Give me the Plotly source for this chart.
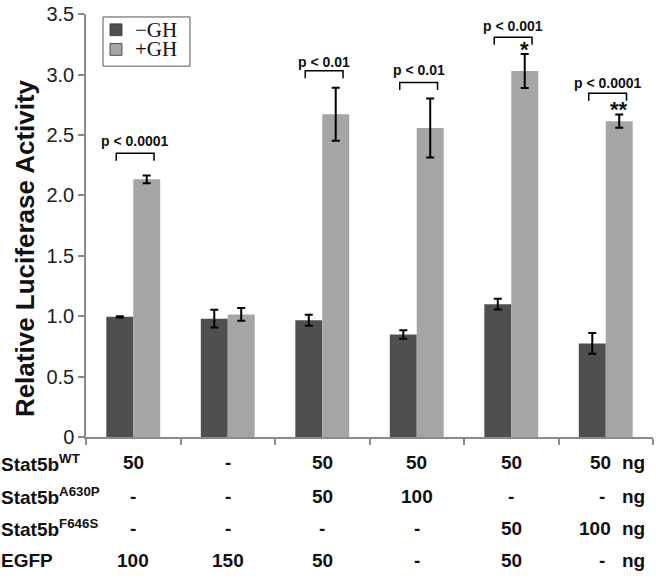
import plotly.graph_objects as go

# ---------------- data ----------------
groups = ["G1", "G2", "G3", "G4", "G5", "G6"]
minus_gh = [0.995, 0.98, 0.967, 0.848, 1.10, 0.775]
minus_gh_err = [0.005, 0.073, 0.045, 0.035, 0.045, 0.085]
plus_gh = [2.133, 1.015, 2.672, 2.558, 3.03, 2.615]
plus_gh_err = [0.032, 0.053, 0.22, 0.245, 0.14, 0.055]

series_names = ["\u2212GH", "+GH"]
p_labels = ["p < 0.0001", None, "p < 0.01", "p < 0.01", "p < 0.001", "p < 0.0001"]
star_labels = [None, None, None, None, "*", "**"]

row_names = ["Stat5b<sup>WT</sup>", "Stat5b<sup>A630P</sup>",
             "Stat5b<sup>F646S</sup>", "EGFP"]
stat5b_wt = ["50", "-", "50", "50", "50", "50"]
stat5b_a630p = ["-", "-", "50", "100", "-", "-"]
stat5b_f646s = ["-", "-", "-", "-", "50", "100"]
egfp = ["100", "150", "50", "-", "50", "-"]
unit = "ng"

y_tickvals = [0, 0.5, 1.0, 1.5, 2.0, 2.5, 3.0, 3.5]
y_ticktext = ["0", "0.5", "1.0", "1.5", "2.0", "2.5", "3.0", "3.5"]

# ---------------- layout helpers (positions) ----------------
bracket_top = [2.35, None, 3.033, 2.935, 3.309, 2.846]
bracket_leg = 0.062
text_y = [2.447, None, 3.106, 3.04, 3.40, 2.927]
star_y = [None, None, None, None, 3.205, 2.712]
row_y = [-0.0605, -0.1395, -0.2163, -0.293]

DARK = "#4f4f4f"
LIGHT = "#a5a5a5"
AXIS = "#8a8a8a"
SANS = "Liberation Sans, Arial, sans-serif"
SERIF = "Liberation Serif, Times New Roman, serif"
ROW_FONT = 19

x = list(range(len(groups)))

fig = go.Figure()
fig.add_trace(go.Bar(
    x=x, y=minus_gh, name=series_names[0], marker=dict(color=DARK, line=dict(width=0)),
    error_y=dict(type="data", array=minus_gh_err, color="black", thickness=2, width=4),
))
fig.add_trace(go.Bar(
    x=x, y=plus_gh, name=series_names[1], marker=dict(color=LIGHT, line=dict(width=0)),
    error_y=dict(type="data", array=plus_gh_err, color="black", thickness=2, width=4),
))

shapes = []
annotations = []
for i in x:
    if p_labels[i]:
        x0, x1 = i - 0.18, i + 0.22
        top = bracket_top[i]
        shapes.append(dict(
            type="path", xref="x", yref="y",
            path=f"M {x0},{top - bracket_leg} L {x0},{top} L {x1},{top} L {x1},{top - bracket_leg}",
            line=dict(color="black", width=1.5),
        ))
        annotations.append(dict(
            x=(x0 + x1) / 2, y=text_y[i], xref="x", yref="y", text=f"<b>{p_labels[i]}</b>",
            showarrow=False, font=dict(family=SANS, size=14, color="#111"),
            xanchor="center", yanchor="middle",
        ))
    if star_labels[i]:
        annotations.append(dict(
            x=i + 0.14, y=star_y[i], xref="x", yref="y", text=f"<b>{star_labels[i]}</b>",
            showarrow=False, font=dict(family=SANS, size=22, color="#111"),
            xanchor="center", yanchor="middle",
        ))

# table below the chart
rows = [stat5b_wt, stat5b_a630p, stat5b_f646s, egfp]
for r, (name, vals) in enumerate(zip(row_names, rows)):
    annotations.append(dict(
        x=-0.1534, y=row_y[r], xref="paper", yref="paper", text=f"<b>{name}</b>",
        showarrow=False, font=dict(family=SANS, size=ROW_FONT, color="#111"),
        xanchor="left", yanchor="middle",
    ))
    last = len(vals) - 1
    for i, v in enumerate(vals):
        if i < last:
            annotations.append(dict(
                x=i, y=row_y[r], xref="x", yref="paper", text=f"<b>{v}</b>",
                showarrow=False, font=dict(family=SANS, size=ROW_FONT, color="#111"),
                xanchor="center", yanchor="middle",
            ))
        else:
            if v == "-":
                annotations.append(dict(
                    x=i - 0.04, y=row_y[r], xref="x", yref="paper", text=f"<b>{v}</b>",
                    showarrow=False, font=dict(family=SANS, size=ROW_FONT, color="#111"),
                    xanchor="center", yanchor="middle",
                ))
            else:
                annotations.append(dict(
                    x=i + 0.074, y=row_y[r], xref="x", yref="paper", text=f"<b>{v}</b>",
                    showarrow=False, font=dict(family=SANS, size=ROW_FONT, color="#111"),
                    xanchor="right", yanchor="middle",
                ))
            annotations.append(dict(
                x=i + 0.15, y=row_y[r], xref="x", yref="paper", text=f"<b>{unit}</b>",
                showarrow=False, font=dict(family=SANS, size=ROW_FONT, color="#111"),
                xanchor="left", yanchor="middle",
            ))

# y-axis title
annotations.append(dict(
    x=-0.1076, y=0.4465, xref="paper", yref="paper",
    text="<b>Relative Luciferase Activity</b>", textangle=-90,
    showarrow=False, font=dict(family=SANS, size=26, color="#111"),
    xanchor="center", yanchor="middle",
))

# custom legend box
shapes.append(dict(type="rect", xref="paper", yref="paper",
                   x0=0.030, x1=0.1834, y0=0.8767, y1=0.993,
                   line=dict(color="#555", width=1), fillcolor="white"))
legend_sq_y = [(0.9488, 0.9767), (0.9023, 0.9302)]
legend_txt_y = [0.9628, 0.9163]
for k, col in enumerate([DARK, LIGHT]):
    shapes.append(dict(type="rect", xref="paper", yref="paper",
                       x0=0.0423, x1=0.0635, y0=legend_sq_y[k][0], y1=legend_sq_y[k][1],
                       line=dict(color="#333", width=0.8), fillcolor=col))
    annotations.append(dict(
        x=0.0829, y=legend_txt_y[k], xref="paper", yref="paper", text=series_names[k],
        showarrow=False, font=dict(family=SERIF, size=21, color="#111"),
        xanchor="left", yanchor="middle",
    ))

fig.update_layout(
    width=656, height=578,
    margin=dict(l=86, r=3, t=7, b=141),
    paper_bgcolor="white", plot_bgcolor="white",
    barmode="group", bargap=0.43, bargroupgap=0,
    showlegend=False,
    xaxis=dict(
        range=[-0.5, 5.5], showgrid=False, zeroline=False,
        showline=True, linecolor=AXIS, linewidth=1.5,
        tickmode="array", tickvals=[i - 0.5 for i in range(len(groups) + 1)],
        showticklabels=False,
        ticks="outside", ticklen=6, tickcolor=AXIS, tickwidth=1.5,
    ),
    yaxis=dict(
        range=[0, 3.502], showgrid=False, zeroline=False,
        showline=True, linecolor=AXIS, linewidth=1.5,
        tickmode="array", tickvals=y_tickvals, ticktext=y_ticktext,
        ticks="outside", ticklen=6, tickcolor=AXIS, tickwidth=1.5,
        tickfont=dict(family=SANS, size=20, color="#222"),
        ticklabeloverflow="allow",
    ),
    shapes=shapes,
    annotations=annotations,
)

fig.write_html("out.html", config={"displayModeBar": False},
               post_script="document.body.style.margin='0';")
